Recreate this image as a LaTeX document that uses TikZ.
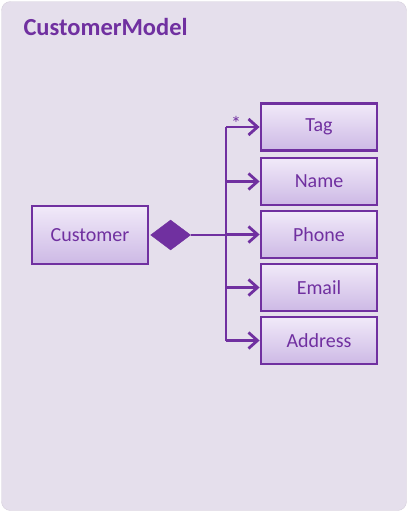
\documentclass[tikz,border=0pt]{standalone}
\usepackage{fontspec}
\setmainfont{Carlito}
\usetikzlibrary{shapes.geometric,arrows.meta}

\definecolor{umlpurple}{HTML}{7030A0}
\definecolor{pkgback}{HTML}{E5DFEC}
\definecolor{pkgline}{HTML}{D6D0DC}
\definecolor{boxtop}{HTML}{F1EAF9}
\definecolor{boxbottom}{HTML}{CDB9E5}

\tikzset{
    classbox/.style = {draw=umlpurple, line width=2.8pt, top color=boxtop, bottom color=boxbottom,
                       text=umlpurple, font=\fontsize{20}{22}\selectfont, minimum width=116pt,
                       minimum height=47pt, inner sep=0pt},
    assoc/.style    = {draw=umlpurple, line width=2.8pt, -{Straight Barb[length=9pt,width=16pt,line width=2.8pt]}},
    bus/.style      = {draw=umlpurple, line width=2.8pt},
}

\begin{document}
\begin{tikzpicture}[x=1pt, y=-1pt]
    \useasboundingbox (0,0) rectangle (408,512);

    % Paket
    \draw [pkgline, fill=pkgback, rounded corners=9pt] (1.5,1.5) rectangle (406.5,510.5);
    \node [anchor=west, text=umlpurple, font=\fontsize{24.5}{28}\selectfont\bfseries] (title) at (20,27) {CustomerModel};

    % Klassen
    \node [classbox, minimum height=58pt] (customer) at (90,235) {Customer};
    \node [classbox] (tag)     at (319,127)   {Tag};
    \node [classbox] (name)    at (319,181.5) {Name};
    \node [classbox] (phone)   at (319,234.5) {Phone};
    \node [classbox] (email)   at (319,287.5) {Email};
    \node [classbox] (address) at (319,340.5) {Address};

    % Komposition
    \node [diamond, fill=umlpurple, draw=umlpurple, inner sep=0pt, minimum width=40pt, minimum height=30pt,
           anchor=west] (comp) at ([xshift=1pt]customer.east) {};
    \coordinate (fork) at (226,235);
    \draw [bus] (comp.east) -- (fork);
    \draw [bus] (fork |- tag.west) -- (fork |- address.west);

    \foreach \target in {tag, name, phone, email, address}
        \draw [assoc] (fork |- \target.west) -- (\target.west);

    \node [text=umlpurple, font=\fontsize{20}{20}\selectfont] (mult) at (236,123) {*};
\end{tikzpicture}
\end{document}
